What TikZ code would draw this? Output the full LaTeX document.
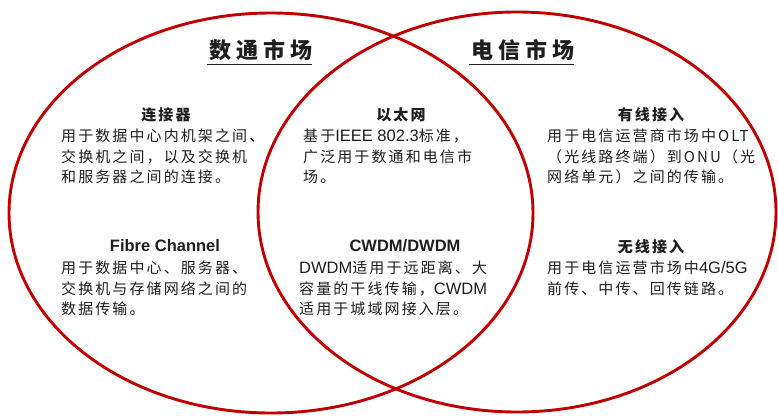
\documentclass[tikz,border=0pt]{standalone}
\usepackage{fontspec}
\newfontfamily\cjk[LetterSpace=14]{Noto Sans CJK SC}
\newfontfamily\cjkt[LetterSpace=22]{Noto Sans CJK SC}
\newfontfamily\latf{Liberation Sans}
\newcommand\lt[1]{{\latf\fontsize{16.5}{20.5}\selectfont #1}}
\definecolor{vred}{HTML}{C00000}
\definecolor{txt}{HTML}{1E1E1E}
\tikzset{
  venn/.style={draw=vred, line width=2.9pt},
  ttl/.style={font=\cjkt\bfseries\fontsize{22}{26}\selectfont, text=txt, anchor=base, inner sep=0pt},
  head/.style={font=\cjk\bfseries\fontsize{15}{20.5}\selectfont, text=txt, anchor=base, inner sep=0pt},
  lhead/.style={font=\latf\bfseries\fontsize{16.5}{20.5}\selectfont, text=txt, anchor=base, inner sep=0pt},
  body/.style={font=\cjk\fontsize{15}{20.5}\selectfont, text=txt, anchor=base west, align=left, inner sep=0pt},
}
\begin{document}
\begin{tikzpicture}[x=1pt,y=-1pt]
\useasboundingbox (0,0) rectangle (778,415);
\draw[venn] (271,213) ellipse [x radius=262, y radius=200];
\draw[venn] (517,212) ellipse [x radius=259, y radius=200];

\node[ttl] (t1) at (261,58) {数通市场};
\node[ttl] (t2) at (523,58) {电信市场};
\draw[txt, line width=1.2pt] (t1.south west) ++(-3,4) coordinate (u1a) -- ([yshift=-4pt]t1.south east) coordinate (u1b);
\draw[txt, line width=1.2pt] (t2.south west) ++(-3,4) coordinate (u2a) -- ([yshift=-4pt]t2.south east) coordinate (u2b);

\node[head] (h1) at (166,120.7) {连接器};
\node[body] (b1) at (61,182.7) {用于数据中心内机架之间、\\交换机之间，以及交换机\\和服务器之间的连接。};

\node[head] (h2) at (401,120.7) {以太网};
\node[body] (b2) at (303,182.7) {基于\lt{IEEE 802.3}标准，\\广泛用于数通和电信市\\场。};

\node[head] (h3) at (651,120.7) {有线接入};
\node[body] (b3) at (547,182.7) {用于电信运营商市场中OLT\\（光线路终端）到ONU（光\\网络单元）之间的传输。};

\node[lhead] (h4) at (165,251) {Fibre Channel};
\node[body] (b4) at (61,314.7) {用于数据中心、服务器、\\交换机与存储网络之间的\\数据传输。};

\node[lhead] (h5) at (405,251) {CWDM/DWDM};
\node[body] (b5) at (299,314.7) {\lt{DWDM}适用于远距离、大\\容量的干线传输，\lt{CWDM}\\适用于城域网接入层。};

\node[head] (h6) at (651,252.7) {无线接入};
\node[body] (b6) at (547,294.2) {用于电信运营市场中\lt{4G/5G}\\前传、中传、回传链路。};
\end{tikzpicture}
\end{document}
